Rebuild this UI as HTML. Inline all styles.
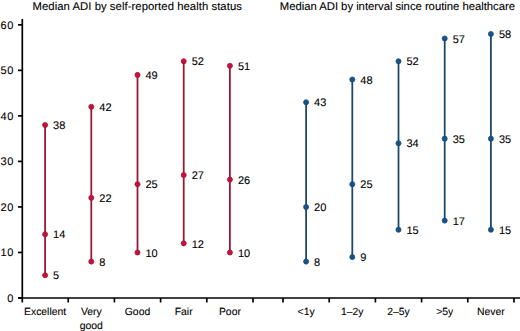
<!DOCTYPE html>
<html><head><meta charset="utf-8"><style>
html,body{margin:0;padding:0;background:#fff;width:520px;height:331px;overflow:hidden}
svg{display:block}
text{text-rendering:geometricPrecision;font-family:"Liberation Sans",sans-serif;fill:#000;stroke:#000;stroke-width:0.1px}
.ax{font-size:11px;letter-spacing:0.6px}
.lb{font-size:11px}
.xl{font-size:10.4px}
.tt{font-size:11.3px}
</style></head><body>
<svg width="520" height="331" viewBox="0 0 520 331">
<line x1="22.3" y1="19" x2="22.3" y2="302.5" stroke="#000" stroke-width="1.7"/>
<line x1="18" y1="298.0" x2="520" y2="298.0" stroke="#000" stroke-width="1.7"/>
<line x1="18" y1="298.00" x2="22.3" y2="298.00" stroke="#000" stroke-width="1.7"/>
<text x="14.0" y="301.90" text-anchor="end" class="ax">0</text>
<line x1="18" y1="252.47" x2="22.3" y2="252.47" stroke="#000" stroke-width="1.7"/>
<text x="14.0" y="256.37" text-anchor="end" class="ax">10</text>
<line x1="18" y1="206.94" x2="22.3" y2="206.94" stroke="#000" stroke-width="1.7"/>
<text x="14.0" y="210.84" text-anchor="end" class="ax">20</text>
<line x1="18" y1="161.41" x2="22.3" y2="161.41" stroke="#000" stroke-width="1.7"/>
<text x="14.0" y="165.31" text-anchor="end" class="ax">30</text>
<line x1="18" y1="115.88" x2="22.3" y2="115.88" stroke="#000" stroke-width="1.7"/>
<text x="14.0" y="119.78" text-anchor="end" class="ax">40</text>
<line x1="18" y1="70.35" x2="22.3" y2="70.35" stroke="#000" stroke-width="1.7"/>
<text x="14.0" y="74.25" text-anchor="end" class="ax">50</text>
<line x1="18" y1="24.82" x2="22.3" y2="24.82" stroke="#000" stroke-width="1.7"/>
<text x="14.0" y="28.72" text-anchor="end" class="ax">60</text>
<line x1="68.20" y1="298.0" x2="68.20" y2="302.5" stroke="#000" stroke-width="1.7"/>
<line x1="114.40" y1="298.0" x2="114.40" y2="302.5" stroke="#000" stroke-width="1.7"/>
<line x1="160.60" y1="298.0" x2="160.60" y2="302.5" stroke="#000" stroke-width="1.7"/>
<line x1="206.80" y1="298.0" x2="206.80" y2="302.5" stroke="#000" stroke-width="1.7"/>
<line x1="253.00" y1="298.0" x2="253.00" y2="302.5" stroke="#000" stroke-width="1.7"/>
<line x1="283.00" y1="298.0" x2="283.00" y2="302.5" stroke="#000" stroke-width="1.7"/>
<line x1="329.20" y1="298.0" x2="329.20" y2="302.5" stroke="#000" stroke-width="1.7"/>
<line x1="375.40" y1="298.0" x2="375.40" y2="302.5" stroke="#000" stroke-width="1.7"/>
<line x1="421.60" y1="298.0" x2="421.60" y2="302.5" stroke="#000" stroke-width="1.7"/>
<line x1="467.80" y1="298.0" x2="467.80" y2="302.5" stroke="#000" stroke-width="1.7"/>
<line x1="514.00" y1="298.0" x2="514.00" y2="302.5" stroke="#000" stroke-width="1.7"/>
<line x1="45.10" y1="124.99" x2="45.10" y2="275.24" stroke="#9c173a" stroke-width="1.8"/>
<circle cx="45.10" cy="275.24" r="2.55" fill="#c8103a" stroke="#9c173a" stroke-width="0.7"/>
<text x="53.10" y="279.44" class="lb">5</text>
<circle cx="45.10" cy="234.26" r="2.55" fill="#c8103a" stroke="#9c173a" stroke-width="0.7"/>
<text x="53.10" y="238.46" class="lb">14</text>
<circle cx="45.10" cy="124.99" r="2.55" fill="#c8103a" stroke="#9c173a" stroke-width="0.7"/>
<text x="53.10" y="129.19" class="lb">38</text>
<line x1="91.30" y1="106.77" x2="91.30" y2="261.58" stroke="#9c173a" stroke-width="1.8"/>
<circle cx="91.30" cy="261.58" r="2.55" fill="#c8103a" stroke="#9c173a" stroke-width="0.7"/>
<text x="99.30" y="265.78" class="lb">8</text>
<circle cx="91.30" cy="197.83" r="2.55" fill="#c8103a" stroke="#9c173a" stroke-width="0.7"/>
<text x="99.30" y="202.03" class="lb">22</text>
<circle cx="91.30" cy="106.77" r="2.55" fill="#c8103a" stroke="#9c173a" stroke-width="0.7"/>
<text x="99.30" y="110.97" class="lb">42</text>
<line x1="137.50" y1="74.90" x2="137.50" y2="252.47" stroke="#9c173a" stroke-width="1.8"/>
<circle cx="137.50" cy="252.47" r="2.55" fill="#c8103a" stroke="#9c173a" stroke-width="0.7"/>
<text x="145.50" y="256.67" class="lb">10</text>
<circle cx="137.50" cy="184.18" r="2.55" fill="#c8103a" stroke="#9c173a" stroke-width="0.7"/>
<text x="145.50" y="188.38" class="lb">25</text>
<circle cx="137.50" cy="74.90" r="2.55" fill="#c8103a" stroke="#9c173a" stroke-width="0.7"/>
<text x="145.50" y="79.10" class="lb">49</text>
<line x1="183.70" y1="61.24" x2="183.70" y2="243.36" stroke="#9c173a" stroke-width="1.8"/>
<circle cx="183.70" cy="243.36" r="2.55" fill="#c8103a" stroke="#9c173a" stroke-width="0.7"/>
<text x="191.70" y="247.56" class="lb">12</text>
<circle cx="183.70" cy="175.07" r="2.55" fill="#c8103a" stroke="#9c173a" stroke-width="0.7"/>
<text x="191.70" y="179.27" class="lb">27</text>
<circle cx="183.70" cy="61.24" r="2.55" fill="#c8103a" stroke="#9c173a" stroke-width="0.7"/>
<text x="191.70" y="65.44" class="lb">52</text>
<line x1="229.90" y1="65.80" x2="229.90" y2="252.47" stroke="#9c173a" stroke-width="1.8"/>
<circle cx="229.90" cy="252.47" r="2.55" fill="#c8103a" stroke="#9c173a" stroke-width="0.7"/>
<text x="237.90" y="256.67" class="lb">10</text>
<circle cx="229.90" cy="179.62" r="2.55" fill="#c8103a" stroke="#9c173a" stroke-width="0.7"/>
<text x="237.90" y="183.82" class="lb">26</text>
<circle cx="229.90" cy="65.80" r="2.55" fill="#c8103a" stroke="#9c173a" stroke-width="0.7"/>
<text x="237.90" y="70.00" class="lb">51</text>
<line x1="306.10" y1="102.22" x2="306.10" y2="261.58" stroke="#1f4768" stroke-width="1.8"/>
<circle cx="306.10" cy="261.58" r="2.55" fill="#11558f" stroke="#1f4768" stroke-width="0.7"/>
<text x="314.10" y="265.78" class="lb">8</text>
<circle cx="306.10" cy="206.94" r="2.55" fill="#11558f" stroke="#1f4768" stroke-width="0.7"/>
<text x="314.10" y="211.14" class="lb">20</text>
<circle cx="306.10" cy="102.22" r="2.55" fill="#11558f" stroke="#1f4768" stroke-width="0.7"/>
<text x="314.10" y="106.42" class="lb">43</text>
<line x1="352.30" y1="79.46" x2="352.30" y2="257.02" stroke="#1f4768" stroke-width="1.8"/>
<circle cx="352.30" cy="257.02" r="2.55" fill="#11558f" stroke="#1f4768" stroke-width="0.7"/>
<text x="360.30" y="261.22" class="lb">9</text>
<circle cx="352.30" cy="184.18" r="2.55" fill="#11558f" stroke="#1f4768" stroke-width="0.7"/>
<text x="360.30" y="188.38" class="lb">25</text>
<circle cx="352.30" cy="79.46" r="2.55" fill="#11558f" stroke="#1f4768" stroke-width="0.7"/>
<text x="360.30" y="83.66" class="lb">48</text>
<line x1="398.50" y1="61.24" x2="398.50" y2="229.70" stroke="#1f4768" stroke-width="1.8"/>
<circle cx="398.50" cy="229.70" r="2.55" fill="#11558f" stroke="#1f4768" stroke-width="0.7"/>
<text x="406.50" y="233.90" class="lb">15</text>
<circle cx="398.50" cy="143.20" r="2.55" fill="#11558f" stroke="#1f4768" stroke-width="0.7"/>
<text x="406.50" y="147.40" class="lb">34</text>
<circle cx="398.50" cy="61.24" r="2.55" fill="#11558f" stroke="#1f4768" stroke-width="0.7"/>
<text x="406.50" y="65.44" class="lb">52</text>
<line x1="444.70" y1="38.48" x2="444.70" y2="220.60" stroke="#1f4768" stroke-width="1.8"/>
<circle cx="444.70" cy="220.60" r="2.55" fill="#11558f" stroke="#1f4768" stroke-width="0.7"/>
<text x="452.70" y="224.80" class="lb">17</text>
<circle cx="444.70" cy="138.65" r="2.55" fill="#11558f" stroke="#1f4768" stroke-width="0.7"/>
<text x="452.70" y="142.84" class="lb">35</text>
<circle cx="444.70" cy="38.48" r="2.55" fill="#11558f" stroke="#1f4768" stroke-width="0.7"/>
<text x="452.70" y="42.68" class="lb">57</text>
<line x1="490.90" y1="33.93" x2="490.90" y2="229.70" stroke="#1f4768" stroke-width="1.8"/>
<circle cx="490.90" cy="229.70" r="2.55" fill="#11558f" stroke="#1f4768" stroke-width="0.7"/>
<text x="498.90" y="233.90" class="lb">15</text>
<circle cx="490.90" cy="138.65" r="2.55" fill="#11558f" stroke="#1f4768" stroke-width="0.7"/>
<text x="498.90" y="142.84" class="lb">35</text>
<circle cx="490.90" cy="33.93" r="2.55" fill="#11558f" stroke="#1f4768" stroke-width="0.7"/>
<text x="498.90" y="38.13" class="lb">58</text>
<text x="45.10" y="314.60" text-anchor="middle" class="xl">Excellent</text>
<text x="91.30" y="314.60" text-anchor="middle" class="xl">Very</text>
<text x="91.30" y="328.80" text-anchor="middle" class="xl">good</text>
<text x="137.50" y="314.60" text-anchor="middle" class="xl">Good</text>
<text x="183.70" y="314.60" text-anchor="middle" class="xl">Fair</text>
<text x="229.90" y="314.60" text-anchor="middle" class="xl">Poor</text>
<text x="306.10" y="314.60" text-anchor="middle" class="xl">&lt;1y</text>
<text x="352.30" y="314.60" text-anchor="middle" class="xl">1–2y</text>
<text x="398.50" y="314.60" text-anchor="middle" class="xl">2–5y</text>
<text x="444.70" y="314.60" text-anchor="middle" class="xl">&gt;5y</text>
<text x="490.90" y="314.60" text-anchor="middle" class="xl">Never</text>
<text x="32.5" y="10.0" class="tt" textLength="209.4" lengthAdjust="spacing">Median ADI by self-reported health status</text>
<text x="279.8" y="10.0" class="tt" textLength="235.2" lengthAdjust="spacing">Median ADI by interval since routine healthcare</text>
</svg>
</body></html>
